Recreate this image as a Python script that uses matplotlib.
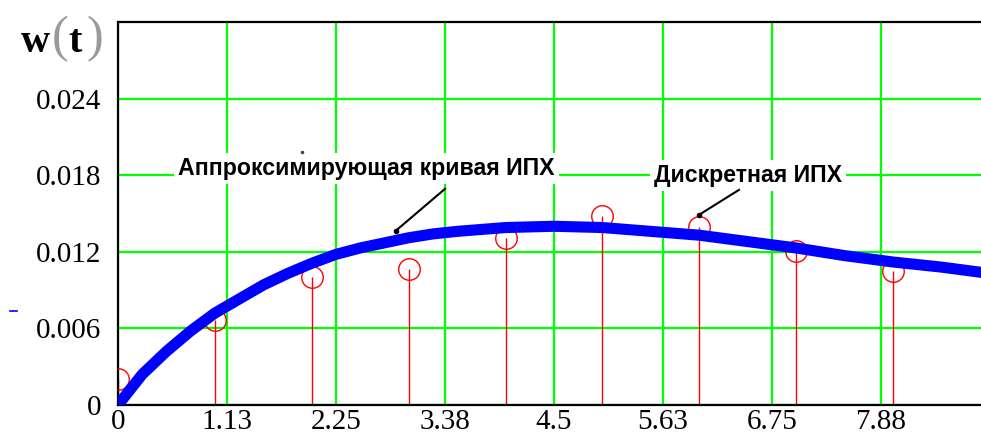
#!/usr/bin/env python3
"""Mathcad-style plot of the impulse response w(t): fitted curve vs discrete samples."""

import matplotlib

matplotlib.use("Agg")
import matplotlib.pyplot as plt
from matplotlib.lines import Line2D

# approximating curve
T_CURVE = [0, 0.25, 0.5, 0.75, 1.0, 1.25, 1.5, 1.75, 2.0, 2.25, 2.5, 2.75, 3.0,
           3.25, 3.5, 4.0, 4.5, 5.0, 5.5, 6.0, 6.5, 7.0, 7.5, 8.0, 8.5, 9.0]
W_CURVE = [0, 0.0024, 0.0042, 0.0058, 0.0072, 0.0083, 0.0094, 0.0103, 0.0111, 0.0118,
           0.0123, 0.0127, 0.0131, 0.0134, 0.0136, 0.0139, 0.0140, 0.0139, 0.0136,
           0.0133, 0.0128, 0.0123, 0.0117, 0.0112, 0.0108, 0.0103]

# discrete samples
T_DISC = [0, 1, 2, 3, 4, 5, 6, 7, 8]
W_DISC = [0.0020, 0.00666, 0.0100, 0.01068, 0.01306, 0.01484, 0.01393, 0.01207, 0.01053]

X_TICKS = [0, 1.125, 2.25, 3.375, 4.5, 5.625, 6.75, 7.875]
X_LABELS = ["0", "1.13", "2.25", "3.38", "4.5", "5.63", "6.75", "7.88"]
Y_TICKS = [0, 0.006, 0.012, 0.018, 0.024]
Y_LABELS = ["0", "0.006", "0.012", "0.018", "0.024"]

LABEL_CURVE = "Аппроксимирующая кривая ИПХ"
LABEL_DISC = "Дискретная ИПХ"

GREEN = "#00ff00"
RED = "#ff0000"
BLUE = "#0000ff"
SERIF = "Liberation Serif"
SANS = "Liberation Sans"

W, H = 981, 437
fig = plt.figure(figsize=(W / 100, H / 100), dpi=100)
fig.set_facecolor("white")

# plot box: x=0 at px 118, x=9 at px 990 (right edge runs off the image)
ax = fig.add_axes([118 / W, (H - 405) / H, 872 / W, 383 / H])
ax.set_xlim(0, 9)
ax.set_ylim(0, 0.03)

ax.grid(True, color=GREEN, linewidth=1.6, zorder=0)
ax.set_axisbelow(True)

# stems + open circles
ax.vlines(T_DISC, 0, W_DISC, colors=RED, linewidth=1.0, zorder=2)
ax.plot(T_DISC, W_DISC, linestyle="none", marker="o", markersize=15.5,
        markerfacecolor="none", markeredgecolor=RED, markeredgewidth=1.0, zorder=3)

# fitted curve
ax.plot(T_CURVE, W_CURVE, color=BLUE, linewidth=8, solid_capstyle="butt",
        solid_joinstyle="round", zorder=4)

ax.set_xticks(X_TICKS)
ax.set_xticklabels(X_LABELS)
ax.set_yticks(Y_TICKS)
ax.set_yticklabels(Y_LABELS)
ax.tick_params(axis="both", length=0, labelsize=21, colors="black")
ax.tick_params(axis="y", pad=12)
ax.tick_params(axis="x", pad=3)
for lab in ax.get_xticklabels() + ax.get_yticklabels():
    lab.set_fontfamily(SERIF)

for side in ("left", "top", "bottom"):
    ax.spines[side].set_color("black")
    ax.spines[side].set_linewidth(1.6)
ax.spines["right"].set_visible(False)

# callouts
box = dict(facecolor="white", edgecolor="none", pad=3)
ax.text(2.564, 0.01855, LABEL_CURVE, ha="center", va="center", fontsize=16.7,
        fontweight="bold", family=SANS, bbox=box, zorder=5)
ax.text(6.50, 0.0180, LABEL_DISC, ha="center", va="center", fontsize=16.7,
        fontweight="bold", family=SANS, bbox=box, zorder=5)
ax.plot([3.375, 2.866], [0.01693, 0.01364], color="black", linewidth=1.5, zorder=6)
ax.plot([2.866], [0.01364], marker="o", markersize=3, color="black", zorder=6)
ax.plot([6.409, 5.996], [0.01685, 0.01489], color="black", linewidth=1.5, zorder=6)
ax.plot([5.996], [0.01489], marker="o", markersize=3, color="black", zorder=6)

# y-axis name "w(t)": bold letters, thin grey brackets
fig.text(21 / W, 1 - 51.5 / H, "w", fontsize=29, fontweight="bold", family=SERIF,
         ha="left", va="baseline")
fig.text(52 / W, 1 - 51 / H, "(", fontsize=36, color="#9a9a9a", family=SERIF,
         ha="left", va="baseline")
fig.text(68 / W, 1 - 51.5 / H, "t", fontsize=29, fontweight="bold", family=SERIF,
         ha="left", va="baseline")
fig.text(86 / W, 1 - 51 / H, ")", fontsize=36, color="#9a9a9a", family=SERIF,
         ha="left", va="baseline")

# stray marks from the original screenshot
fig.add_artist(Line2D([10 / W, 17 / W], [1 - 311 / H] * 2, color=BLUE, linewidth=1.2))
fig.add_artist(Line2D([302 / W], [1 - 152 / H], marker="o", markersize=1.5, color="#444444"))

fig.savefig("out.png", dpi=100, facecolor="white")
